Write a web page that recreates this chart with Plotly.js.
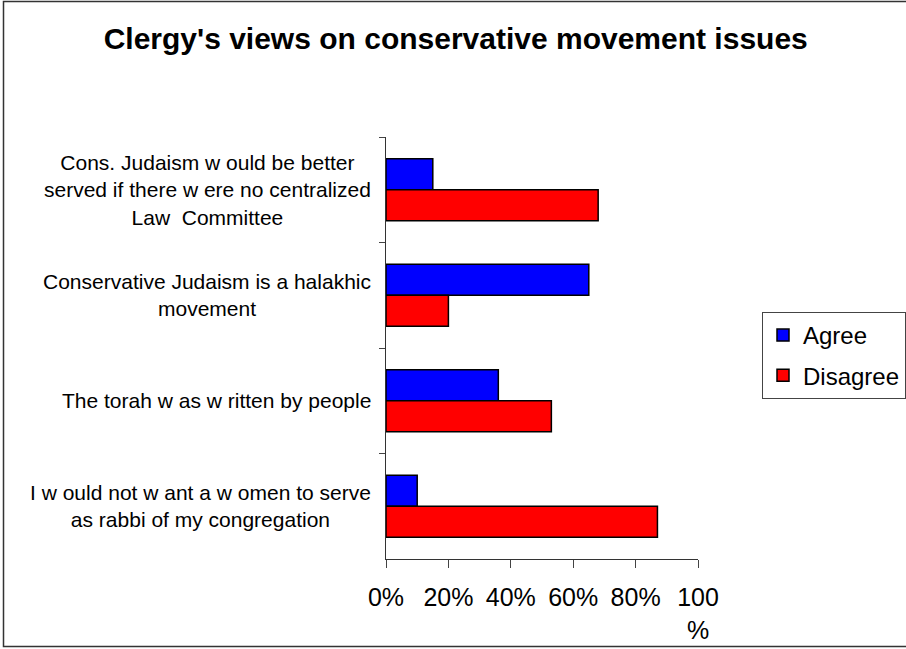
<!DOCTYPE html>
<html>
<head>
<meta charset="utf-8">
<script src="https://cdn.plot.ly/plotly-3.0.1.min.js"></script>
<style>
  html, body { margin: 0; padding: 0; background: #fff; }
  #chart { width: 906px; height: 649px; }
</style>
</head>
<body>
<div id="chart"></div>
<script>
// Data
const categories = [
  "Cons. Judaism w ould be better<br>served if there w ere no centralized<br>Law  Committee",
  "Conservative Judaism is a halakhic<br>movement",
  "The torah w as w ritten by people",
  "I w ould not w ant a w omen to serve<br>as rabbi of my congregation"
];
const agree = [15, 65, 36, 10];
const disagree = [68, 20, 53, 87];
const seriesNames = ["Agree", "Disagree"];
const xTickVals = [0, 20, 40, 60, 80, 100];
const xTickText = ["0%", "20%", "40%", "60%", "80%", "100<br>%"];

const FONT = "Liberation Sans, Arial, Helvetica, sans-serif";

const traces = [
  {
    type: "bar", orientation: "h", name: seriesNames[0],
    x: agree, y: categories, legendgroup: "a",
    marker: { color: "#0000FF", line: { color: "#000000", width: 1.5 } },
    hoverinfo: "x+name"
  },
  {
    type: "bar", orientation: "h", name: seriesNames[1],
    x: disagree, y: categories, legendgroup: "d",
    marker: { color: "#FF0000", line: { color: "#000000", width: 1.5 } },
    hoverinfo: "x+name"
  }
];

const annotations = categories.map(c => ({
  xref: "paper", yref: "y", x: 0, y: c, xanchor: "right", yanchor: "middle",
  xshift: -13, text: c, showarrow: false, align: "center",
  font: { family: FONT, size: 21, color: "#000" }
}));

const layout = {
  width: 906, height: 649,
  margin: { l: 386, r: 208, t: 137, b: 90, pad: 0, autoexpand: false },
  paper_bgcolor: "#ffffff", plot_bgcolor: "#ffffff",
  font: { family: FONT, color: "#000" },
  title: {
    text: "<b>Clergy's views on conservative movement issues</b>",
    font: { family: FONT, size: 30, color: "#000" },
    xref: "container", yref: "container",
    x: 0.503, xanchor: "center", y: 0.94, yanchor: "middle"
  },
  barmode: "group", bargap: 0.41, bargroupgap: 0,
  xaxis: {
    range: [0, 100], tickvals: xTickVals, ticktext: xTickText,
    ticks: "outside", ticklen: 8, tickcolor: "#444", tickwidth: 1,
    showline: true, linecolor: "#333", linewidth: 1,
    showgrid: false, zeroline: false, fixedrange: true,
    ticklabelstandoff: 8,
    tickfont: { family: FONT, size: 25, color: "#000" }
  },
  yaxis: {
    type: "category", autorange: "reversed",
    ticks: "outside", ticklen: 6, tickcolor: "#444", tickwidth: 1,
    tickson: "boundaries",
    showline: true, linecolor: "#333", linewidth: 1,
    showgrid: false, zeroline: false, showticklabels: false, fixedrange: true
  },
  legend: {
    x: (762 - 386) / 312, y: (559 - 312) / 422, xanchor: "left", yanchor: "top",
    xref: "paper", yref: "paper",
    bgcolor: "#ffffff", bordercolor: "#444", borderwidth: 1,
    traceorder: "grouped", tracegroupgap: 6,
    font: { family: FONT, size: 24, color: "#000" }
  },
  annotations: annotations,
  shapes: [{
    type: "rect", xref: "paper", yref: "paper",
    x0: (3.5 - 386) / 312, x1: (912 - 386) / 312,
    y0: (559 - 646.5) / 422, y1: (559 - 1.5) / 422,
    line: { color: "#333", width: 1.5 }, fillcolor: "rgba(0,0,0,0)", layer: "above"
  }],
  showlegend: true
};

Plotly.newPlot("chart", traces, layout, { displayModeBar: false, staticPlot: true });
</script>
</body>
</html>
